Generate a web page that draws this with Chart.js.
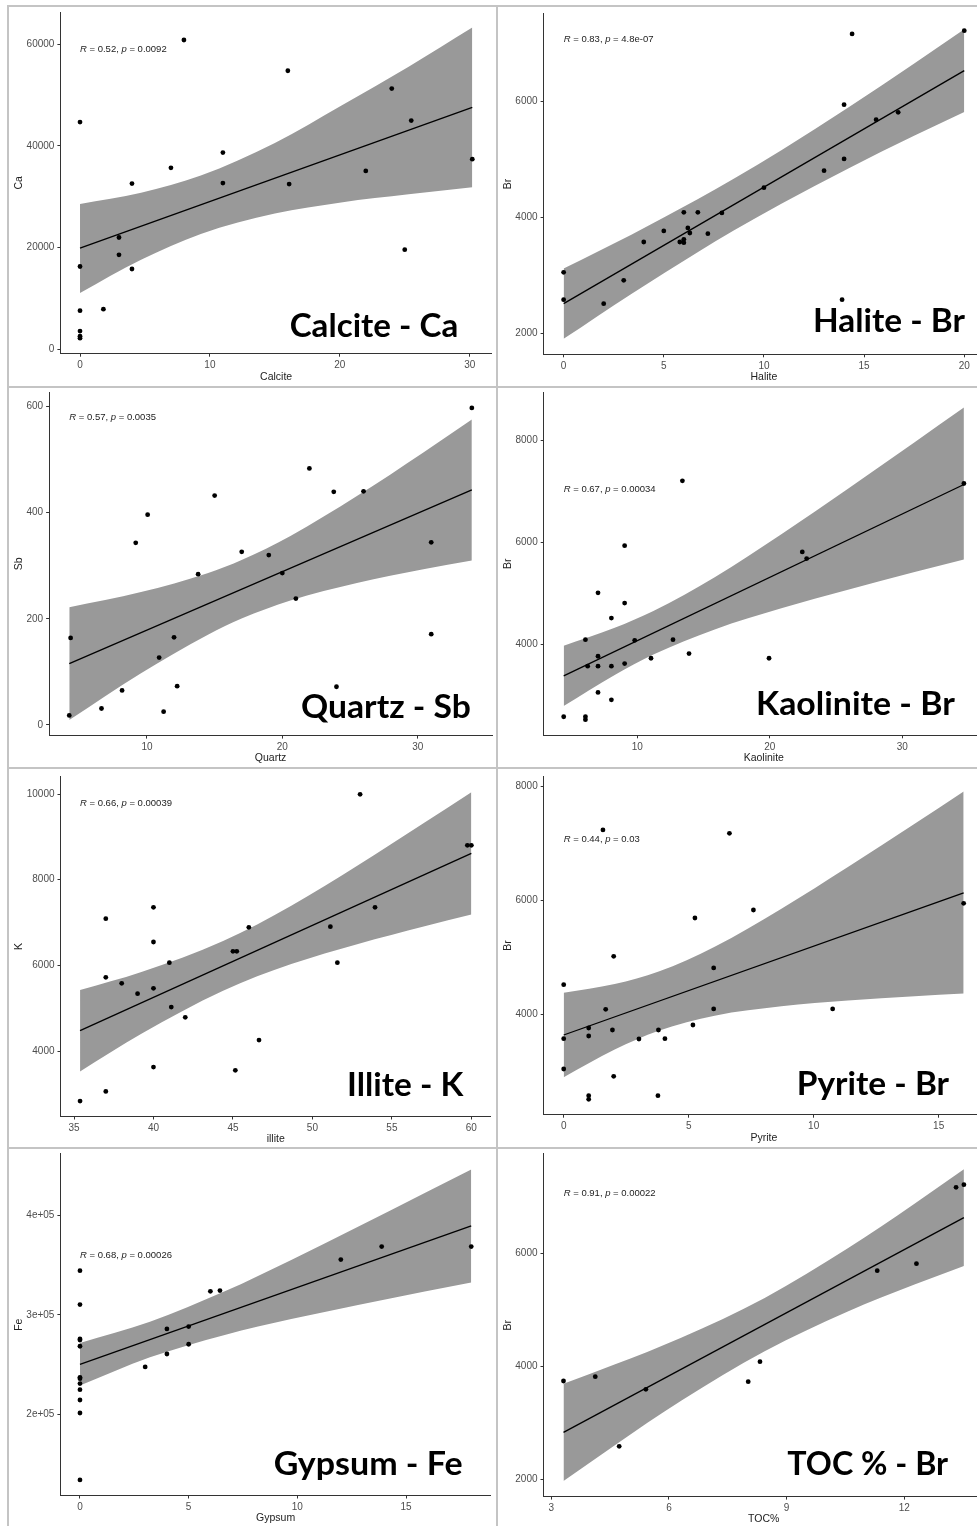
<!DOCTYPE html>
<html>
<head>
<meta charset="utf-8">
<script src="https://cdn.jsdelivr.net/npm/chart.js@4.4.1/dist/chart.umd.min.js"></script>
<style>
html, body { margin: 0; padding: 0; background: #fff; }
#page { position: relative; width: 977px; height: 1526px; overflow: hidden; background: #fff; }
.pane { position: absolute; }
.rule { position: absolute; background: #c4c4c4; }
.stat { position: absolute; font-family: "Liberation Sans", Arial, sans-serif; font-size: 9.5px; color: #222;
        white-space: nowrap; line-height: 1; transform: translateY(-50%); }
.tag { position: absolute; font-family: Lato, "Open Sans", sans-serif; font-weight: 700; font-size: 32.5px;
       line-height: 1; white-space: nowrap; color: #000; transform-origin: right center; }
</style>
</head>
<body>
<div id="page"></div>
<script>
// Calcite - Ca
const calciteX = [8, 16, 24, 0, 25.5, 11, 30.2, 7, 22, 4, 11, 16.1, 3, 3, 4, 0, 25, 0, 1.8, 0, 0, 0];
const calciteCa = [60850, 54800, 51300, 44700, 45000, 38700, 37400, 35700, 35100, 32600, 32700, 32500, 22000, 18600, 15800, 16300, 19600, 7600, 7900, 3600, 2600, 2200];
const calciteFitX = [0, 30.2];
const calciteFitY = [19900, 47600];
const calciteBandX = [0, 4.7, 9.3, 15, 20.1, 25.3, 30.2];
const calciteBandLow = [11100, 17600, 22700, 26700, 28900, 30500, 31900];
const calciteBandHigh = [28600, 30800, 34200, 40600, 47900, 55600, 63300];
const calciteTicksX = [0, 10, 20, 30];
const calciteTicksY = [0, 20000, 40000, 60000];

// Halite - Br
const haliteX = [20, 14.4, 14, 15.6, 16.7, 14, 13, 10, 6, 6.7, 7.9, 5, 6.2, 6.3, 7.2, 4, 5.8, 6, 6, 0, 3, 0, 2, 13.9];
const haliteBr = [7225, 7168, 5948, 5689, 5816, 5010, 4808, 4515, 4089, 4089, 4078, 3767, 3819, 3732, 3721, 3577, 3577, 3623, 3565, 3053, 2915, 2581, 2512, 2581];
const haliteFitX = [0, 20];
const haliteFitY = [2512, 6535];
const haliteBandX = [0, 3.38, 6.71, 8.49, 10.87, 14.19, 17.52, 20];
const haliteBandLow = [1905, 2681, 3406, 3773, 4238, 4843, 5413, 5821];
const haliteBandHigh = [3119, 3703, 4318, 4668, 5162, 5895, 6664, 7249];
const haliteTicksX = [0, 5, 10, 15, 20];
const haliteTicksY = [2000, 4000, 6000];

// Quartz - Sb
const quartzX = [34, 22, 15, 23.8, 26, 10.05, 9.17, 31, 17, 19, 13.78, 20, 21, 4.36, 12, 31, 10.9, 8.16, 12.23, 24, 6.64, 11.23, 4.26];
const quartzSb = [597, 483, 432, 439, 440, 396, 343, 344, 326, 320, 284, 286, 238, 164, 165, 171, 127, 65, 73, 72, 31, 25, 18];
const quartzFitX = [4.26, 34];
const quartzFitY = [115.5, 442.5];
const quartzBandX = [4.26, 9.56, 14.47, 16.99, 20.6, 25.51, 30.42, 34];
const quartzBandLow = [9.4, 97.3, 169.6, 200.3, 234.3, 267.3, 293, 309.7];
const quartzBandHigh = [221.5, 250.2, 285.8, 310.7, 356, 431, 513.2, 575.2];
const quartzTicksX = [10, 20, 30];
const quartzTicksY = [0, 200, 400, 600];

// Kaolinite - Br
const kaoliniteX = [13.4, 34.65, 9.04, 22.45, 22.78, 7.03, 9.04, 8.04, 6.08, 9.8, 12.69, 13.9, 7.03, 11.03, 19.94, 9.04, 6.25, 7.03, 8.04, 7.03, 8.04, 4.44, 6.08, 6.08];
const kaoliniteBr = [7212, 7160, 5941, 5818, 5687, 5016, 4814, 4521, 4098, 4085, 4098, 3824, 3772, 3733, 3733, 3629, 3577, 3577, 3577, 3062, 2918, 2586, 2586, 2528];
const kaoliniteFitX = [4.44, 34.65];
const kaoliniteFitY = [3388, 7140];
const kaoliniteBandX = [4.44, 8.29, 11.21, 15.84, 20.87, 25.9, 30.93, 34.65];
const kaoliniteBandLow = [2795, 3406, 3806, 4299, 4712, 5076, 5422, 5671];
const kaoliniteBandHigh = [3980, 4330, 4659, 5322, 6165, 7057, 7968, 8648];
const kaoliniteTicksX = [10, 20, 30];
const kaoliniteTicksY = [4000, 6000, 8000];

// Illite - K
const illiteX = [53, 59.75, 60, 40, 53.94, 37, 46, 51.13, 40, 45, 45.24, 41, 51.57, 37, 38, 40, 39, 41.12, 42, 46.64, 40, 45.15, 37, 35.38];
const illiteK = [9992, 8801, 8801, 7354, 7354, 7089, 6887, 6903, 6545, 6327, 6327, 6062, 6062, 5720, 5580, 5463, 5339, 5027, 4786, 4257, 3626, 3549, 3058, 2833];
const illiteFitX = [35.38, 60];
const illiteFitY = [4475, 8615];
const illiteBandX = [35.38, 39.24, 44.38, 48.67, 52.87, 57.06, 60];
const illiteBandLow = [3525, 4402, 5409, 6030, 6501, 6914, 7187];
const illiteBandHigh = [5424, 5845, 6569, 7394, 8335, 9333, 10043];
const illiteTicksX = [35, 40, 45, 50, 55, 60];
const illiteTicksY = [4000, 6000, 8000, 10000];

// Pyrite - Br
const pyriteX = [1.57, 6.63, 16, 7.59, 5.25, 2, 6, 0, 1.68, 6, 10.76, 1, 1.95, 3.79, 5.17, 1, 0, 3.01, 4.05, 0, 2, 1, 1, 3.77];
const pyriteBr = [7234, 7175, 5947, 5830, 5690, 5018, 4813, 4520, 4088, 4094, 4094, 3760, 3725, 3725, 3813, 3620, 3573, 3567, 3573, 3041, 2912, 2573, 2509, 2573];
const pyriteFitX = [0, 16];
const pyriteFitY = [3637, 6129];
const pyriteBandX = [0, 2.04, 3.8, 6.04, 8.71, 11.37, 14.04, 16];
const pyriteBandLow = [2898, 3382, 3711, 3975, 4140, 4242, 4317, 4365];
const pyriteBandHigh = [4377, 4530, 4750, 5185, 5853, 6584, 7342, 7909];
const pyriteTicksX = [0, 5, 10, 15];
const pyriteTicksY = [4000, 6000, 8000];

// Gypsum - Fe
const gypsumX = [13.88, 18, 12, 0, 6, 6.44, 0, 4, 5, 0, 0, 0, 5, 4, 3, 0, 0, 0, 0, 0, 0, 0];
const gypsumFe = [368800, 368800, 355700, 344600, 323800, 324500, 310400, 285900, 288300, 275800, 274800, 268500, 270500, 260700, 247700, 237200, 235900, 230900, 224800, 214400, 201300, 133900];
const gypsumFitX = [0, 18];
const gypsumFitY = [250300, 389600];
const gypsumBandX = [0, 3.22, 6.66, 9.72, 12.79, 15.86, 18];
const gypsumBandLow = [228900, 257300, 279900, 295800, 310000, 323500, 332700];
const gypsumBandHigh = [271800, 293200, 323800, 355400, 388700, 422700, 446500];
const gypsumTicksX = [0, 5, 10, 15];
const gypsumTicksY = [200000, 300000, 400000];
const gypsumTickLabelsY = ["2e+05", "3e+05", "4e+05"];

// TOC% - Br
const tocX = [13.52, 13.32, 12.31, 11.31, 8.32, 3.31, 4.12, 8.02, 5.41, 4.73];
const tocBr = [7223, 7175, 5822, 5698, 4086, 3743, 3820, 3731, 3595, 2585];
const tocFitX = [3.31, 13.52];
const tocFitY = [2833, 6638];
const tocBandX = [3.31, 4.61, 6.31, 8.44, 10.56, 12.26, 13.52];
const tocBandLow = [1970, 2601, 3392, 4270, 4976, 5452, 5781];
const tocBandHigh = [3696, 4034, 4511, 5216, 6095, 6885, 7494];
const tocTicksX = [3, 6, 9, 12];
const tocTicksY = [2000, 4000, 6000];

// texts, panel order
const xTitles = ["Calcite", "Halite", "Quartz", "Kaolinite", "illite", "Pyrite", "Gypsum", "TOC%"];
const yTitles = ["Ca", "Br", "Sb", "Br", "K", "Br", "Fe", "Br"];
const tagTexts = ["Calcite - Ca", "Halite - Br", "Quartz - Sb", "Kaolinite - Br", "Illite - K", "Pyrite - Br", "Gypsum - Fe", "TOC % - Br"];
const corrR = ["0.52", "0.83", "0.57", "0.67", "0.66", "0.44", "0.68", "0.91"];
const corrP = ["0.0092", "4.8e-07", "0.0035", "0.00034", "0.00039", "0.03", "0.00026", "0.00022"];

const series = [
  [calciteX, calciteCa, calciteFitX, calciteFitY, calciteBandX, calciteBandLow, calciteBandHigh, calciteTicksX, calciteTicksY, null],
  [haliteX, haliteBr, haliteFitX, haliteFitY, haliteBandX, haliteBandLow, haliteBandHigh, haliteTicksX, haliteTicksY, null],
  [quartzX, quartzSb, quartzFitX, quartzFitY, quartzBandX, quartzBandLow, quartzBandHigh, quartzTicksX, quartzTicksY, null],
  [kaoliniteX, kaoliniteBr, kaoliniteFitX, kaoliniteFitY, kaoliniteBandX, kaoliniteBandLow, kaoliniteBandHigh, kaoliniteTicksX, kaoliniteTicksY, null],
  [illiteX, illiteK, illiteFitX, illiteFitY, illiteBandX, illiteBandLow, illiteBandHigh, illiteTicksX, illiteTicksY, null],
  [pyriteX, pyriteBr, pyriteFitX, pyriteFitY, pyriteBandX, pyriteBandLow, pyriteBandHigh, pyriteTicksX, pyriteTicksY, null],
  [gypsumX, gypsumFe, gypsumFitX, gypsumFitY, gypsumBandX, gypsumBandLow, gypsumBandHigh, gypsumTicksX, gypsumTicksY, gypsumTickLabelsY],
  [tocX, tocBr, tocFitX, tocFitY, tocBandX, tocBandLow, tocBandHigh, tocTicksX, tocTicksY, null]
];

// layout: canvas box [left, top, w, h], plot area [l, t, r, b], axis limits, stat label spot, tag [right, baseline, width]
const layout = [
  { box: [9, 7, 487, 379], plot: [60.4, 12.0, 491.9, 353.7], xLim: [-1.51, 31.71], yLim: [-855, 66355], stat: [80, 48.7], tag: [458, 336.7, 168.3] },
  { box: [498, 7, 502, 379], plot: [543.6, 13.8, 984.3, 354.3], xLim: [-1, 21], yLim: [1638, 7516], stat: [563.7, 39.3], tag: [965.3, 332.3, 152] },
  { box: [9, 388, 487, 379], plot: [49.1, 392.3, 493.6, 735.6], xLim: [2.77, 35.49], yLim: [-20, 626.4], stat: [69.3, 416.7], tag: [471.3, 718, 170] },
  { box: [498, 388, 502, 379], plot: [543.7, 390.9, 983.9, 735.3], xLim: [2.93, 36.16], yLim: [2222, 8954], stat: [563.7, 488.7], tag: [955.3, 715.3, 199] },
  { box: [9, 769, 487, 378], plot: [60.5, 776.7, 490.9, 1116.5], xLim: [34.15, 61.23], yLim: [2472, 10404], stat: [80, 803], tag: [463, 1095.7, 116] },
  { box: [498, 769, 502, 378], plot: [543.7, 776.1, 983.9, 1114.7], xLim: [-0.8, 16.81], yLim: [2239, 8179], stat: [563.7, 838.7], tag: [948.7, 1094.7, 152.3] },
  { box: [9, 1149, 487, 377], plot: [60.4, 1153.9, 490.8, 1495.5], xLim: [-0.9, 18.9], yLim: [118264, 462105], stat: [80, 1255.3], tag: [463, 1474.7, 189.3] },
  { box: [498, 1149, 502, 377], plot: [543.5, 1153.8, 983.9, 1496.6], xLim: [2.8, 14.03], yLim: [1694, 7770], stat: [563.7, 1193.3], tag: [948, 1475.3, 160.7] }
];

const page = document.getElementById("page");
const axisInk = "#333333";
const tickFont = { family: "'Liberation Sans', Arial, sans-serif", size: 10 };
const titleFont = { family: "'Liberation Sans', Arial, sans-serif", size: 10.5 };

function pairs(xs, ys) {
  return xs.map((x, i) => ({ x: x, y: ys[i] }));
}

function rule(l, t, w, h) {
  const d = document.createElement("div");
  d.className = "rule";
  d.style.left = l + "px"; d.style.top = t + "px";
  d.style.width = w + "px"; d.style.height = h + "px";
  page.appendChild(d);
}

rule(7, 5, 970, 2);
rule(7, 5, 2, 1521);
rule(496, 5, 2, 1521);
rule(7, 386, 970, 2);
rule(7, 767, 970, 2);
rule(7, 1147, 970, 2);

function makePanel(i) {
  const [xs, ys, fitX, fitY, bandX, bandLo, bandHi, ticksX, ticksY, labelsY] = series[i];
  const lay = layout[i];
  const [L, T, W, H] = lay.box;
  const [pl, pt, pr, pb] = lay.plot;
  const yW = pl - L, xH = T + H - pb, padTop = pt - T, padRight = L + W - pr;

  const canvas = document.createElement("canvas");
  canvas.className = "pane";
  canvas.width = W; canvas.height = H;
  canvas.style.left = L + "px"; canvas.style.top = T + "px";
  canvas.style.width = W + "px"; canvas.style.height = H + "px";
  page.appendChild(canvas);

  const axisCommon = {
    type: "linear",
    grid: { display: true, drawOnChartArea: false, drawTicks: true, tickLength: 3, color: axisInk, lineWidth: 1 },
    border: { display: true, color: axisInk, width: 1 }
  };

  new Chart(canvas, {
    type: "scatter",
    data: {
      datasets: [
        { data: pairs(xs, ys), order: 0, pointRadius: 2.4, pointBackgroundColor: "#000", pointBorderWidth: 0, showLine: false },
        { data: pairs(fitX, fitY), order: 1, showLine: true, borderColor: "#000", borderWidth: 1.3, pointRadius: 0 },
        { data: pairs(bandX, bandLo), order: 3, showLine: true, borderColor: "rgba(0,0,0,0)", borderWidth: 0, pointRadius: 0, cubicInterpolationMode: "monotone" },
        { data: pairs(bandX, bandHi), order: 2, showLine: true, borderColor: "rgba(0,0,0,0)", borderWidth: 0, pointRadius: 0, cubicInterpolationMode: "monotone",
          fill: "-1", backgroundColor: "#999999" }
      ]
    },
    options: {
      responsive: false,
      animation: false,
      devicePixelRatio: 1,
      events: [],
      layout: { padding: { left: 0, top: padTop, right: padRight, bottom: 0 } },
      plugins: { legend: { display: false }, tooltip: { enabled: false } },
      scales: {
        x: Object.assign({}, axisCommon, {
          position: "bottom",
          min: lay.xLim[0], max: lay.xLim[1],
          afterBuildTicks: s => { s.ticks = ticksX.map(v => ({ value: v })); },
          afterFit: s => { s.height = xH; s.paddingLeft = 0; s.paddingRight = 0; },
          ticks: { autoSkip: false, maxRotation: 0, padding: 3, color: "#4d4d4d", font: tickFont, callback: v => String(v) },
          title: { display: true, text: xTitles[i], color: "#222", font: titleFont, padding: { top: 0, bottom: Math.max(0, xH - 23 - 6.3) } }
        }),
        y: Object.assign({}, axisCommon, {
          position: "left",
          min: lay.yLim[0], max: lay.yLim[1],
          afterBuildTicks: s => { s.ticks = ticksY.map(v => ({ value: v })); },
          afterFit: s => { s.width = yW; s.paddingTop = 0; s.paddingBottom = 0; },
          ticks: { autoSkip: false, padding: 3, color: "#4d4d4d", font: tickFont,
                   callback: (v, k) => (labelsY ? labelsY[k] : String(v)) },
          title: { display: true, text: yTitles[i], color: "#222", font: titleFont, padding: { top: 4.2, bottom: 0 } }
        })
      }
    }
  });

  const stat = document.createElement("div");
  stat.className = "stat";
  stat.style.left = lay.stat[0] + "px";
  stat.style.top = lay.stat[1] + "px";
  stat.innerHTML = "<i>R</i> = " + corrR[i] + ", <i>p</i> = " + corrP[i];
  page.appendChild(stat);

  const tag = document.createElement("div");
  tag.className = "tag";
  tag.textContent = tagTexts[i];
  page.appendChild(tag);
  const probe = document.createElement("span");
  probe.style.display = "inline-block";
  probe.style.width = "0"; probe.style.height = "0";
  tag.appendChild(probe);
  const natural = tag.offsetWidth;
  const baseOff = probe.offsetTop - tag.offsetTop;
  const [right, base, width] = lay.tag;
  tag.style.left = (right - natural) + "px";
  tag.style.top = (base - baseOff) + "px";
  tag.style.transform = "scaleX(" + (width / natural) + ")";
}

for (let i = 0; i < series.length; i++) makePanel(i);
</script>
</body>
</html>
